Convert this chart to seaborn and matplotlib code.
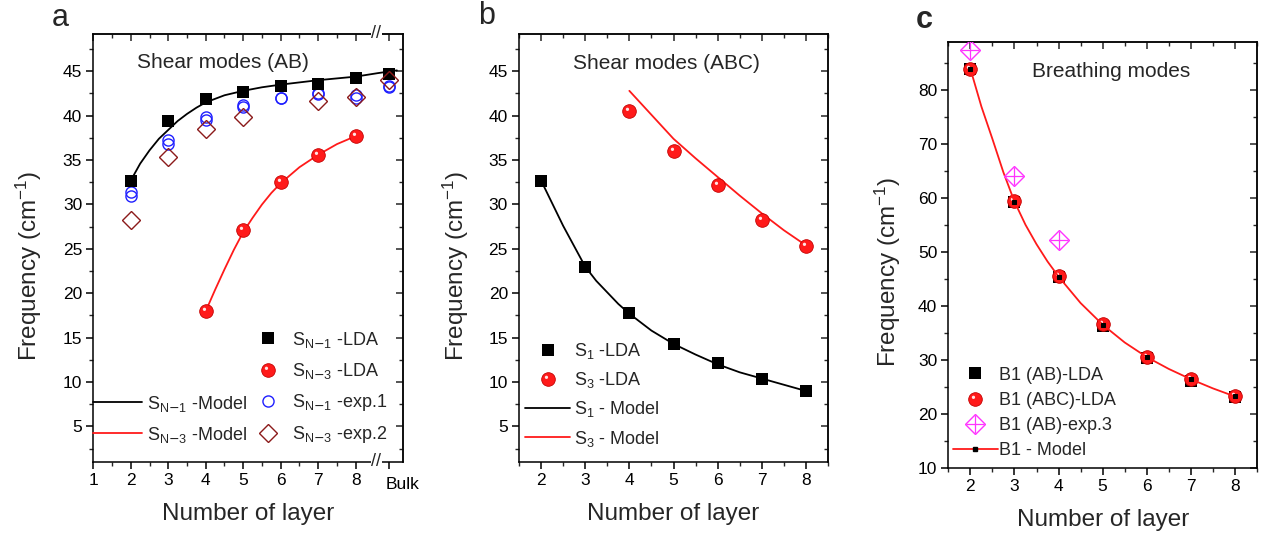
import numpy as np
import matplotlib
matplotlib.use("Agg")
import matplotlib.pyplot as plt
import matplotlib.ticker as mticker
import seaborn as sns
from matplotlib.path import Path
from matplotlib.lines import Line2D
from matplotlib.legend_handler import HandlerTuple
from matplotlib.transforms import ScaledTranslation, blended_transform_factory

# ---------------- data ----------------
# Panel a : shear modes (AB)
a_tick_vals = [1, 2, 3, 4, 5, 6, 7, 8, 8.9]
a_tick_labels = ["1", "2", "3", "4", "5", "6", "7", "8", "Bulk"]
a_sN1_lda_x = [2, 3, 4, 5, 6, 7, 8, 8.9]
a_sN1_lda_y = [32.7, 39.4, 41.9, 42.7, 43.3, 43.6, 44.2, 44.7]
a_sN3_lda_x = [4, 5, 6, 7, 8]
a_sN3_lda_y = [18.0, 27.1, 32.5, 35.6, 37.7]
a_exp1_x = [2, 3, 4, 5, 6, 7, 8, 8.9]
a_exp1_y1 = [31.0, 36.8, 39.5, 41.0, 42.0, 42.4, 42.0, 43.2]
a_exp1_y2 = [31.4, 37.3, 39.8, 41.2, 42.0, 42.5, 42.3, 43.4]
a_exp2_x = [2, 3, 4, 5, 7, 8, 8.9]
a_exp2_y = [28.3, 35.4, 38.5, 39.9, 41.6, 42.1, 44.0]
a_sN1_model_x = [2, 2.25, 2.5, 2.75, 3, 3.25, 3.5, 3.75, 4, 4.5, 5, 5.5, 6, 7, 8, 8.6, 9.1]
a_sN1_model_y = [32.7, 34.6, 36.1, 37.4, 38.4, 39.4, 40.2, 40.9, 41.5, 42.3, 42.8,
                 43.2, 43.5, 44.0, 44.4, 44.8, 45.1]
a_sN3_model_x = [4, 4.25, 4.5, 4.75, 5, 5.25, 5.5, 5.75, 6, 6.5, 7, 7.5, 8]
a_sN3_model_y = [18.0, 20.4, 22.7, 24.9, 26.9, 28.5, 30.0, 31.3, 32.4, 34.2, 35.6, 36.8, 37.7]

# Panel b : shear modes (ABC)
b_s1_lda_x = [2, 3, 4, 5, 6, 7, 8]
b_s1_lda_y = [32.7, 23.0, 17.8, 14.3, 12.1, 10.4, 9.0]
b_s3_lda_x = [4, 5, 6, 7, 8]
b_s3_lda_y = [40.5, 36.0, 32.2, 28.2, 25.3]
b_s1_model_x = [2, 2.5, 3, 3.25, 3.5, 3.75, 4, 4.5, 5, 5.5, 6, 6.5, 7, 7.5, 8]
b_s1_model_y = [32.7, 27.6, 23.0, 21.4, 20.1, 18.8, 17.7, 15.8, 14.3, 13.1, 12.0,
                11.1, 10.4, 9.7, 9.0]
b_s3_model_x = [4, 4.5, 5, 5.5, 6, 6.5, 7, 7.5, 8]
b_s3_model_y = [42.8, 40.1, 37.4, 35.2, 33.1, 31.0, 29.0, 27.1, 25.4]

# Panel c : breathing modes
c_ab_lda_x = [2, 3, 4, 5, 6, 7, 8]
c_ab_lda_y = [84.0, 59.3, 45.4, 36.4, 30.4, 26.1, 23.2]
c_abc_lda_x = [2, 3, 4, 5, 6, 7, 8]
c_abc_lda_y = [84.0, 59.5, 45.6, 36.7, 30.7, 26.6, 23.3]
c_exp3_x = [2, 3, 4]
c_exp3_y = [87.5, 64.1, 52.3]
c_model_x = [2, 2.25, 2.5, 2.75, 3, 3.25, 3.5, 3.75, 4, 4.5, 5, 5.5, 6, 6.5, 7, 7.5, 8]
c_model_y = [84.0, 77.0, 71.0, 64.8, 59.4, 55.1, 51.5, 48.3, 45.5, 40.6, 36.6,
             33.3, 30.6, 28.4, 26.5, 24.8, 23.3]

# ---------------- style ----------------
sns.set_theme(style="ticks")
plt.rcParams["font.family"] = ["Liberation Sans", "DejaVu Sans"]
plt.rcParams["mathtext.fontset"] = "custom"
plt.rcParams["mathtext.rm"] = "Liberation Sans"
plt.rcParams["mathtext.it"] = "Liberation Sans:italic"
plt.rcParams["mathtext.bf"] = "Liberation Sans:bold"
plt.rcParams["axes.linewidth"] = 1.1

TICK_FS = 12.5
LAB_FS = 17.5
LEG_FS = 13
ANN_FS = 15

BLACK = "#000000"
RED = "#ff1a1a"
RED_EDGE = "#c40000"
HI = "#ffe6e6"
BLUE = "#1f1fff"
BROWN = "#8b1a1a"
MAGENTA = "#ff33ff"
BALL_MS = 9.8

# highlight marker for the "3D ball" look
_circ = Path.circle(center=(-0.30, 0.32), radius=0.24)
_verts = np.vstack([_circ.vertices, [[1, 0], [-1, 0], [0, 1], [0, -1]]])
_codes = np.concatenate([_circ.codes, [Path.MOVETO] * 4])
HILITE = Path(_verts, _codes)

fig = plt.figure(figsize=(12.72, 5.39), dpi=100)


def add_axes(px_left, px_right, px_top, px_bottom):
    W, H = 1272.0, 539.0
    return fig.add_axes([px_left / W, 1 - px_bottom / H,
                         (px_right - px_left) / W, (px_bottom - px_top) / H])


def pts(ax, x, y, **kw):
    sns.lineplot(x=x, y=y, ax=ax, estimator=None, sort=False,
                 linestyle="", legend=False, **kw)


def line(ax, x, y, **kw):
    sns.lineplot(x=x, y=y, ax=ax, estimator=None, sort=False,
                 legend=False, **kw)


def balls(ax, x, y, ms=BALL_MS, z=5):
    pts(ax, x, y, marker="o", markersize=ms, markerfacecolor=RED,
        markeredgecolor=RED_EDGE, markeredgewidth=0.6, color=RED, zorder=z)
    pts(ax, x, y, marker=HILITE, markersize=ms, markerfacecolor=HI,
        markeredgewidth=0, color=HI, zorder=z + 0.1)


def ball_handle(ms=BALL_MS):
    h1 = Line2D([], [], linestyle="", marker="o", markersize=ms,
                markerfacecolor=RED, markeredgecolor=RED_EDGE, markeredgewidth=0.6)
    h2 = Line2D([], [], linestyle="", marker=HILITE, markersize=ms,
                markerfacecolor=HI, markeredgewidth=0)
    return (h1, h2)


def style_axes(ax, xmaj, xmin, ymaj, ymin, xlim, ylim):
    ax.set_xlim(*xlim)
    ax.set_ylim(*ylim)
    ax.set_xticks(xmaj)
    ax.set_yticks(ymaj)
    ax.xaxis.set_minor_locator(mticker.FixedLocator(xmin))
    ax.yaxis.set_minor_locator(mticker.FixedLocator(ymin))
    ax.tick_params(which="major", direction="out", length=5, width=1.1,
                   labelsize=TICK_FS, colors="black", pad=3)
    ax.tick_params(which="minor", direction="out", length=3, width=1.0)
    for s in ax.spines.values():
        s.set_visible(True)
        s.set_linewidth(1.1)
        s.set_color("black")
    sx = ax.secondary_xaxis("top")
    sx.set_xticks(xmaj)
    sx.xaxis.set_minor_locator(mticker.FixedLocator(xmin))
    sx.tick_params(which="major", direction="in", length=5, width=1.1, labeltop=False)
    sx.tick_params(which="minor", direction="in", length=3, width=1.0)
    sx.spines["top"].set_linewidth(1.1)
    sy = ax.secondary_yaxis("right")
    sy.set_yticks(ymaj)
    sy.yaxis.set_minor_locator(mticker.FixedLocator(ymin))
    sy.tick_params(which="major", direction="in", length=5, width=1.1, labelright=False)
    sy.tick_params(which="minor", direction="in", length=3, width=1.0)
    sy.spines["right"].set_linewidth(1.1)
    ax.set_xlabel("Number of layer", fontsize=LAB_FS)
    ax.set_ylabel("Frequency (cm$^{-1}$)", fontsize=LAB_FS)
    return sx, sy


TUP = {tuple: HandlerTuple(ndivide=1, pad=0)}

# ---------------- panel a ----------------
ax = add_axes(93.3, 403.3, 34, 462)
line(ax, a_sN1_model_x, a_sN1_model_y, color=BLACK, linewidth=1.3, zorder=2)
line(ax, a_sN3_model_x, a_sN3_model_y, color=RED, linewidth=1.3, zorder=2)
pts(ax, a_exp1_x, a_exp1_y1, marker="o", markersize=8, markerfacecolor="none",
    markeredgecolor=BLUE, markeredgewidth=1.0, color=BLUE, zorder=3)
pts(ax, a_exp1_x, a_exp1_y2, marker="o", markersize=8, markerfacecolor="none",
    markeredgecolor=BLUE, markeredgewidth=1.0, color=BLUE, zorder=3)
pts(ax, a_sN1_lda_x, a_sN1_lda_y, marker="s", markersize=9, color=BLACK,
    markeredgewidth=0, zorder=4)
pts(ax, a_exp2_x, a_exp2_y, marker="D", markersize=9.5, markerfacecolor="none",
    markeredgecolor=BROWN, markeredgewidth=1.0, color=BROWN, zorder=5)
balls(ax, a_sN3_lda_x, a_sN3_lda_y)

a_minor_x = [1.5, 2.5, 3.5, 4.5, 5.5, 6.5, 7.5]
style_axes(ax, a_tick_vals, a_minor_x, list(range(5, 50, 5)),
           list(np.arange(2.5, 50, 5)), (1, 9.27), (1, 49.2))
ax.set_xticklabels(a_tick_labels)
bl = ax.get_xticklabels()[-1]
bl.set_transform(bl.get_transform() + ScaledTranslation(0.13, -0.04, fig.dpi_scale_trans))
ax.yaxis.set_label_coords(-0.158, 0.458)
ax.xaxis.set_label_coords(0.5, -0.096)
blend = blended_transform_factory(ax.transData, ax.transAxes)
for yy in (0, 1):
    ax.text(8.55, yy, "//", transform=blend, ha="center", va="center",
            fontsize=13, clip_on=False, zorder=10,
            bbox=dict(fc="white", ec="none", pad=0.5))
ax.text(0.418, 0.933, "Shear modes (AB)", transform=ax.transAxes,
        ha="center", va="center", fontsize=ANN_FS)
fig.text(60 / 1272, 1 - 18 / 539, "a", fontsize=22, ha="center", va="center")

h_sq = Line2D([], [], linestyle="", marker="s", markersize=9, color=BLACK, markeredgewidth=0)
h_circ = Line2D([], [], linestyle="", marker="o", markersize=8, markerfacecolor="none",
                markeredgecolor=BLUE, markeredgewidth=1.0)
h_dia = Line2D([], [], linestyle="", marker="D", markersize=9.5, markerfacecolor="none",
               markeredgecolor=BROWN, markeredgewidth=1.0)
leg1 = ax.legend([h_sq, ball_handle(), h_circ, h_dia],
                 [r"S$_{\rm N\mathsf{-}1}$ -LDA", r"S$_{\rm N\mathsf{-}3}$ -LDA",
                  r"S$_{\rm N\mathsf{-}1}$ -exp.1", r"S$_{\rm N\mathsf{-}3}$ -exp.2"],
                 handler_map=TUP,
                 loc="upper left", bbox_to_anchor=(0.53, 0.309), frameon=False,
                 fontsize=LEG_FS, handlelength=1.1, handletextpad=0.8,
                 labelspacing=0.62, borderpad=0, borderaxespad=0)
ax.add_artist(leg1)
h_bl = Line2D([], [], color=BLACK, linewidth=1.3)
h_rl = Line2D([], [], color=RED, linewidth=1.3)
ax.legend([h_bl, h_rl],
          [r"S$_{\rm N\mathsf{-}1}$ -Model", r"S$_{\rm N\mathsf{-}3}$ -Model"],
          loc="upper left", bbox_to_anchor=(0.0, 0.160), frameon=False,
          fontsize=LEG_FS, handlelength=2.7, handletextpad=0.3,
          labelspacing=0.62, borderpad=0, borderaxespad=0)

# ---------------- panel b ----------------
ax = add_axes(519, 828, 34, 462)
line(ax, b_s1_model_x, b_s1_model_y, color=BLACK, linewidth=1.3, zorder=2)
line(ax, b_s3_model_x, b_s3_model_y, color=RED, linewidth=1.3, zorder=2)
pts(ax, b_s1_lda_x, b_s1_lda_y, marker="s", markersize=9, color=BLACK,
    markeredgewidth=0, zorder=4)
balls(ax, b_s3_lda_x, b_s3_lda_y)
style_axes(ax, [2, 3, 4, 5, 6, 7, 8], list(np.arange(1.5, 8.6, 0.5)),
           list(range(5, 50, 5)), list(np.arange(2.5, 50, 5)),
           (1.5, 8.5), (1, 49.2))
ax.yaxis.set_label_coords(-0.156, 0.458)
ax.xaxis.set_label_coords(0.5, -0.096)
ax.text(0.478, 0.931, "Shear modes (ABC)", transform=ax.transAxes,
        ha="center", va="center", fontsize=ANN_FS)
fig.text(487 / 1272, 1 - 16 / 539, "b", fontsize=22, ha="center", va="center")
ax.legend([h_sq, ball_handle(), h_bl, h_rl],
          [r"S$_1$ -LDA", r"S$_3$ -LDA", r"S$_1$ - Model", r"S$_3$ - Model"],
          handler_map=TUP,
          loc="upper left", bbox_to_anchor=(0.02, 0.283), frameon=False,
          fontsize=LEG_FS, handlelength=2.5, handletextpad=0.2,
          labelspacing=0.51, borderpad=0, borderaxespad=0)

# ---------------- panel c ----------------
ax = add_axes(948.3, 1257, 41.7, 468.3)
int_idx = [i for i, v in enumerate(c_model_x) if float(v).is_integer()]
pts(ax, c_ab_lda_x, c_ab_lda_y, marker="s", markersize=9, color=BLACK,
    markeredgewidth=0, zorder=3)
balls(ax, c_abc_lda_x, c_abc_lda_y, z=4)
line(ax, c_model_x, c_model_y, color=RED, linewidth=1.3, zorder=6,
     marker="s", markersize=2.5, markerfacecolor=BLACK, markeredgecolor=BLACK,
     markevery=int_idx)
pts(ax, c_exp3_x, c_exp3_y, marker="D", markersize=10, markerfacecolor="none",
    markeredgecolor=MAGENTA, markeredgewidth=1.0, color=MAGENTA, zorder=7)
pts(ax, c_exp3_x, c_exp3_y, marker="+", markersize=13, markeredgecolor=MAGENTA,
    markeredgewidth=0.9, color=MAGENTA, zorder=7)
style_axes(ax, [2, 3, 4, 5, 6, 7, 8], list(np.arange(1.5, 8.6, 0.5)),
           list(range(10, 90, 10)), list(np.arange(15, 90, 10)),
           (1.5, 8.5), (10, 89))
ax.yaxis.set_label_coords(-0.148, 0.46)
ax.xaxis.set_label_coords(0.5, -0.096)
ax.text(0.526, 0.930, "Breathing modes", transform=ax.transAxes,
        ha="center", va="center", fontsize=ANN_FS)
fig.text(924 / 1272, 1 - 20 / 539, "c", fontsize=22, fontweight="bold",
         ha="center", va="center")
h_dc = (Line2D([], [], linestyle="", marker="D", markersize=10, markerfacecolor="none",
               markeredgecolor=MAGENTA, markeredgewidth=1.0),
        Line2D([], [], linestyle="", marker="+", markersize=13,
               markeredgecolor=MAGENTA, markeredgewidth=0.9))
h_model = Line2D([], [], color=RED, linewidth=1.3, marker="s", markersize=2.5,
                 markerfacecolor=BLACK, markeredgecolor=BLACK)
ax.legend([h_sq, ball_handle(), h_dc, h_model],
          ["B1 (AB)-LDA", "B1 (ABC)-LDA", "B1 (AB)-exp.3", "B1 - Model"],
          handler_map=TUP,
          loc="upper left", bbox_to_anchor=(0.015, 0.238), frameon=False,
          fontsize=LEG_FS, handlelength=2.5, handletextpad=0.05,
          labelspacing=0.45, borderpad=0, borderaxespad=0)

fig.savefig("out.png", dpi=100)
